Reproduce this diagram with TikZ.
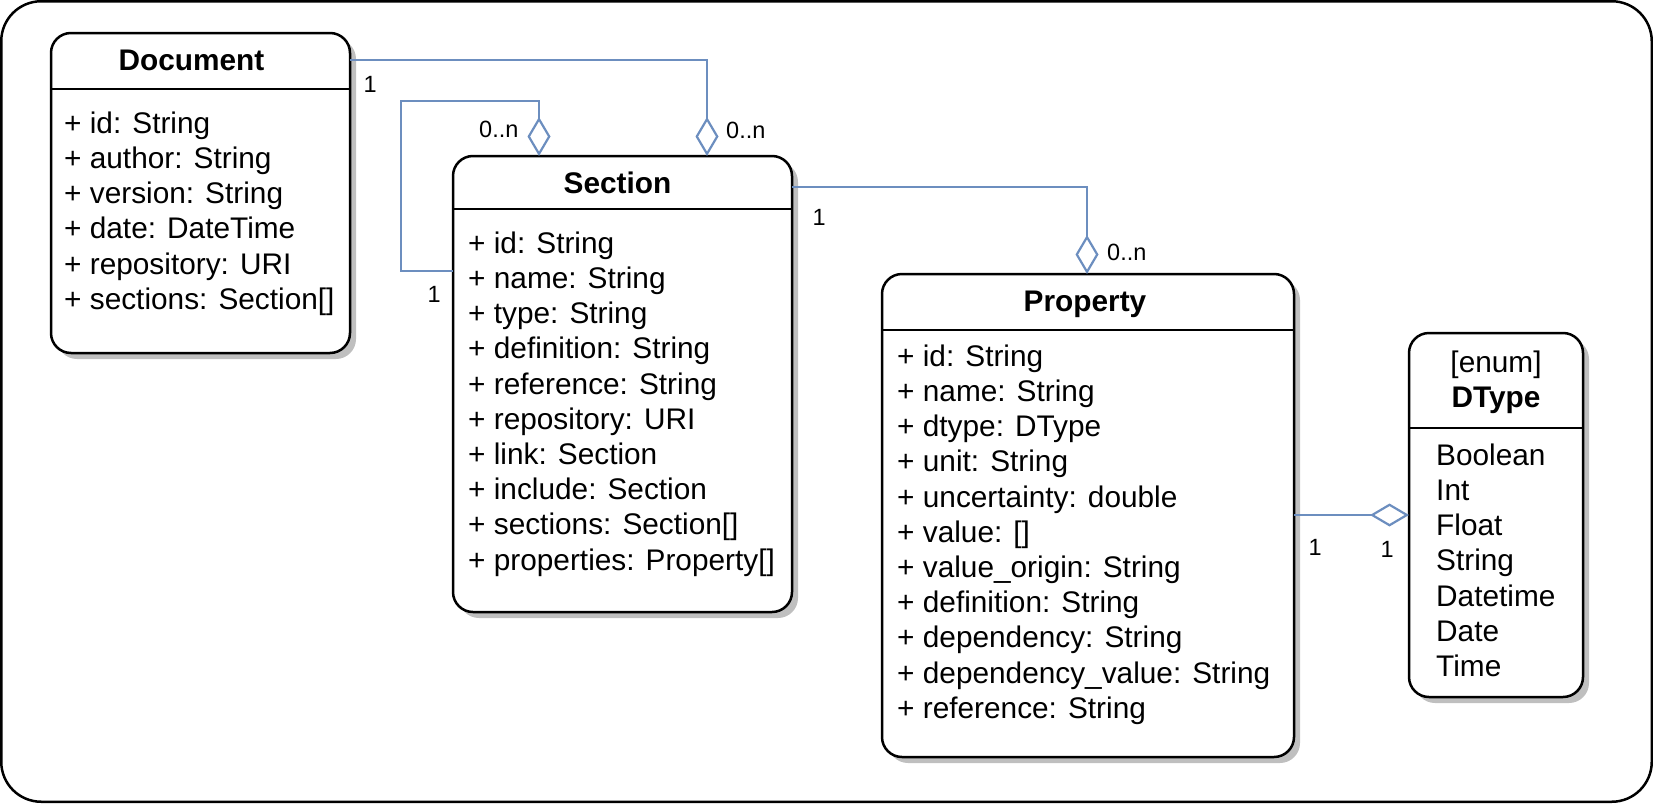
\documentclass[tikz,border=0pt]{standalone}
\usepackage{fontspec}
\setmainfont{Liberation Sans}
\usetikzlibrary{shadows,arrows.meta}
\definecolor{linkblue}{HTML}{6C8EBF}

\begin{document}
\begin{tikzpicture}[x=1pt,y=-1pt,
  class node/.style={draw,line width=2.5pt,rounded corners=20pt,fill=white,
    outer sep=0pt,inner sep=0pt,anchor=north west,
    drop shadow={shadow xshift=6pt,shadow yshift=-6pt,fill=black!25,opacity=1}},
  title node/.style={anchor=base,inner sep=0pt,font=\fontsize{29.8}{35.2}\selectfont\bfseries},
  attr node/.style={anchor=north west,align=left,inner sep=0pt,font=\fontsize{29.8}{35.2}\selectfont},
  mult node/.style={anchor=base west,inner sep=0pt,font=\fontsize{23.5}{28}\selectfont},
  sep line/.style={line width=2.5pt},
  link/.style={draw=linkblue,line width=2.2pt},
  aggr/.style={link,-{Diamond[open,length=39pt,width=23pt]}}]

  \useasboundingbox (0,0) rectangle (1653,803);
  \draw[line width=2.5pt,rounded corners=40pt] (1.25,1.25) rectangle (1651.75,801.75);

  \node[class node,minimum width=299pt,minimum height=320pt] (doc) at (51,33) {};
  \node[title node] (doctitle) at ([xshift=-9pt,yshift=-37pt]doc.north) {Document};
  \draw[sep line] ([yshift=-56pt]doc.north west) -- ([yshift=-56pt]doc.north east);
  \node[attr node] (docattrs) at ([xshift=13pt,yshift=-75.4pt]doc.north west)
    {\strut + id: String\\ + author: String\\ + version: String\\ + date: DateTime\\
     + repository: URI\\ + sections: Section[]};

  \node[class node,minimum width=339pt,minimum height=456pt] (sec) at (453,156) {};
  \node[title node] (sectitle) at ([xshift=-5pt,yshift=-37pt]sec.north) {Section};
  \draw[sep line] ([yshift=-53pt]sec.north west) -- ([yshift=-53pt]sec.north east);
  \node[attr node] (secattrs) at ([xshift=15pt,yshift=-72.4pt]sec.north west)
    {\strut + id: String\\ + name: String\\ + type: String\\ + definition: String\\
     + reference: String\\ + repository: URI\\ + link: Section\\ + include: Section\\
     + sections: Section[]\\ + properties: Property[]};

  \node[class node,minimum width=412pt,minimum height=483pt] (prop) at (882,274) {};
  \node[title node] (proptitle) at ([xshift=-3pt,yshift=-37pt]prop.north) {Property};
  \draw[sep line] ([yshift=-56pt]prop.north west) -- ([yshift=-56pt]prop.north east);
  \node[attr node] (propattrs) at ([xshift=15pt,yshift=-67.4pt]prop.north west)
    {\strut + id: String\\ + name: String\\ + dtype: DType\\ + unit: String\\
     + uncertainty: double\\ + value: []\\ + value\_origin: String\\ + definition: String\\
     + dependency: String\\ + dependency\_value: String\\ + reference: String};

  \node[class node,minimum width=174pt,minimum height=364pt] (dt) at (1409,333) {};
  \node[title node,font=\fontsize{29.8}{35.2}\selectfont] (dtstereo) at ([yshift=-39pt]dt.north) {[enum]};
  \node[title node] (dttitle) at ([yshift=-74pt]dt.north) {DType};
  \draw[sep line] ([yshift=-95pt]dt.north west) -- ([yshift=-95pt]dt.north east);
  \node[attr node] (dtattrs) at ([xshift=27pt,yshift=-107.4pt]dt.north west)
    {\strut Boolean\\ Int\\ Float\\ String\\ Datetime\\ Date\\ Time};

  \draw[aggr] ([yshift=-27pt]doc.north east) -| ([xshift=254pt]sec.north west);
  \draw[aggr] ([yshift=-115pt]sec.north west) -- ++(-52pt,0pt)
    |- ([xshift=86pt,yshift=55pt]sec.north west) -- ([xshift=86pt]sec.north west);
  \draw[aggr] ([yshift=-31pt]sec.north east) -| ([xshift=205pt]prop.north west);
  \draw[aggr] ([yshift=-241pt]prop.north east) -- ([yshift=-182pt]dt.north west);

  \node[mult node] (m1) at ([xshift=13.5pt,yshift=-59pt]doc.north east) {1};
  \node[mult node] (m2) at ([xshift=273pt,yshift=18pt]sec.north west) {0..n};
  \node[mult node] (m3) at ([xshift=26pt,yshift=19pt]sec.north west) {0..n};
  \node[mult node] (m4) at ([xshift=-25.5pt,yshift=-146pt]sec.north west) {1};
  \node[mult node] (m5) at ([xshift=20.5pt,yshift=-69pt]sec.north east) {1};
  \node[mult node] (m6) at ([xshift=225pt,yshift=14pt]prop.north west) {0..n};
  \node[mult node] (m7) at ([xshift=14.5pt,yshift=-281pt]prop.north east) {1};
  \node[mult node] (m8) at ([xshift=-28.5pt,yshift=-224pt]dt.north west) {1};
\end{tikzpicture}
\end{document}
